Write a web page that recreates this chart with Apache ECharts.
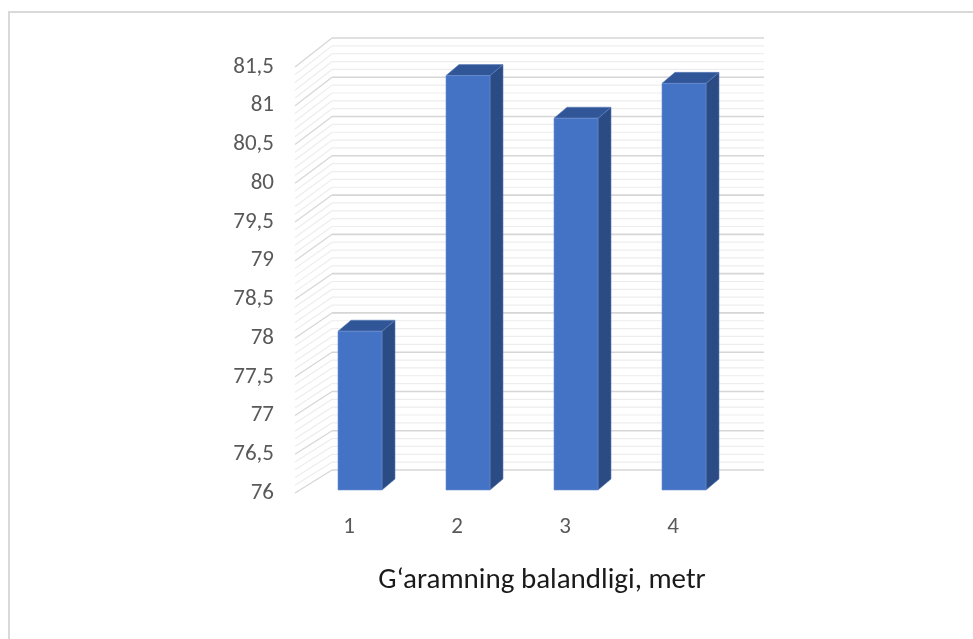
<!DOCTYPE html>
<html>
<head>
<meta charset="utf-8">
<title>G‘aramning balandligi</title>
<script src="https://cdn.jsdelivr.net/npm/echarts@6/dist/echarts.min.js"></script>
<style>
  html, body { margin: 0; padding: 0; background: #ffffff; }
  #chart { width: 973px; height: 639px; }
</style>
</head>
<body>
<div id="chart"></div>
<script>
// Chart data
const categories = ['1', '2', '3', '4'];
const heights = [78.05, 81.35, 80.8, 81.25];
const yMin = 76;
const yMax = 81.5;
const yStep = 0.5;
const minorStep = 0.1;
const axisTitle = 'G‘aramning balandligi, metr';

// Wall gridline values (major every yStep, minor every minorStep)
const wallTicks = [];
const nMinor = Math.round((yMax - yMin) / minorStep);
const perMajor = Math.round(yStep / minorStep);
for (let i = 0; i <= nMinor; i++) {
  wallTicks.push([0, +(yMin + i * minorStep).toFixed(2), i % perMajor === 0 ? 1 : 0]);
}

// Oblique projection settings for the pseudo-3D look
const WALL_DX = 37;           // horizontal depth of side wall
const WALL_DY = 23;           // vertical depth of side wall at floor
const WALL_SCALE = 432 / 426; // back wall slightly taller (perspective)
const BAR_W = 44;
const BAR_OFF_X = 11, BAR_OFF_Y = -3; // bar front plane behind floor edge
const BAR_DX = 13, BAR_DY = 11;       // bar depth

const FONT = 'Carlito, Lato, "Noto Sans", sans-serif';

function renderWall(params, api) {
  const cs = params.coordSys;
  const v = api.value(1);
  const major = api.value(2) === 1;
  const floorY = cs.y + cs.height;
  const yf = api.coord([0, v])[1];
  const yb = floorY - WALL_DY - (floorY - yf) * WALL_SCALE;
  const left = cs.x, right = cs.x + cs.width;
  const stroke = major ? '#d6d6d6' : '#ededed';
  return {
    type: 'group',
    children: [
      { type: 'line', shape: { x1: left, y1: yf, x2: left + WALL_DX, y2: yb },
        style: { stroke: stroke, lineWidth: 1.2 } },
      { type: 'line', shape: { x1: left + WALL_DX, y1: yb, x2: right + WALL_DX, y2: yb },
        style: { stroke: stroke, lineWidth: major ? 1.6 : 1.2 } }
    ]
  };
}

function renderBar(params, api) {
  const idx = api.value(0);
  const base = api.coord([idx, yMin]);
  const top = api.coord([idx, api.value(1)]);
  const x0 = base[0] - BAR_W / 2 + BAR_OFF_X;
  const x1 = x0 + BAR_W;
  const yb = base[1] + BAR_OFF_Y;
  const yt = top[1] + BAR_OFF_Y;
  return {
    type: 'group',
    children: [
      { type: 'polygon',
        shape: { points: [[x1, yt], [x1 + BAR_DX, yt - BAR_DY], [x1 + BAR_DX, yb - BAR_DY], [x1, yb]] },
        style: { fill: '#2b4b84', stroke: '#5a7dbb', lineWidth: 0.6 } },
      { type: 'polygon',
        shape: { points: [[x0, yt], [x0 + BAR_DX, yt - BAR_DY], [x1 + BAR_DX, yt - BAR_DY], [x1, yt]] },
        style: { fill: '#305698', stroke: '#5a7dbb', lineWidth: 0.6 } },
      { type: 'rect',
        shape: { x: x0, y: yt, width: BAR_W, height: yb - yt },
        style: { fill: '#4472c4', stroke: '#6d8fd0', lineWidth: 0.6 } }
    ]
  };
}

const chart = echarts.init(document.getElementById('chart'), null, { renderer: 'canvas' });
chart.setOption({
  animation: false,
  backgroundColor: '#ffffff',
  graphic: [{
    type: 'rect',
    shape: { x: 9, y: 12, width: 1100, height: 800 },
    style: { fill: 'none', stroke: '#d9d9d9', lineWidth: 2 },
    silent: true
  }],
  grid: { left: 295, right: 246, top: 67, bottom: 146 },
  xAxis: {
    type: 'category',
    data: categories,
    axisLine: { show: false },
    axisTick: { show: false },
    axisLabel: { color: '#595959', fontSize: 23, fontFamily: FONT, margin: 23 },
    name: axisTitle,
    nameLocation: 'middle',
    nameGap: 73,
    nameTextStyle: { color: '#1a1a1a', fontSize: 29, fontFamily: FONT, padding: [0, 0, 0, 62] }
  },
  yAxis: {
    type: 'value',
    min: yMin,
    max: yMax,
    interval: yStep,
    axisLine: { show: false },
    axisTick: { show: false },
    splitLine: { show: false },
    axisLabel: {
      color: '#595959', fontSize: 23, fontFamily: FONT, margin: 21,
      padding: [5, 0, 0, 0],
      formatter: v => String(v).replace('.', ',')
    }
  },
  series: [
    { type: 'custom', renderItem: renderWall, data: wallTicks, silent: true, z: 1 },
    { type: 'custom', renderItem: renderBar, data: heights.map((h, i) => [i, h]), z: 2 }
  ]
});
</script>
</body>
</html>
